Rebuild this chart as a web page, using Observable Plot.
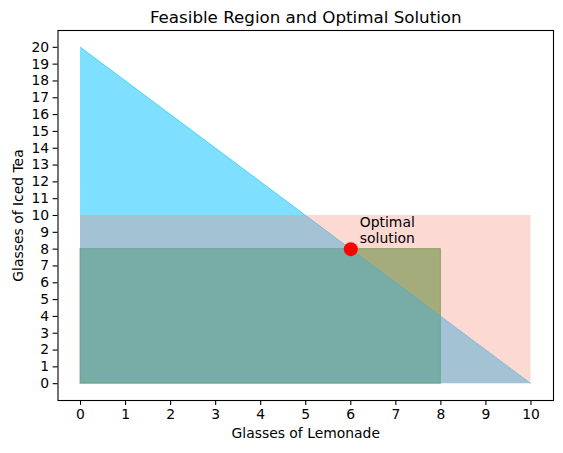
<!DOCTYPE html>
<html>
<head>
<meta charset="utf-8">
<script src="https://cdn.jsdelivr.net/npm/d3@7"></script>
<script src="https://cdn.jsdelivr.net/npm/@observablehq/plot@0.6"></script>
<style>
html, body { margin: 0; padding: 0; background: #fff; }
</style>
</head>
<body>
<div id="chart"></div>
<script>
// Data
const budgetLemonade = [0, 10];      // x of budget constraint line
const budgetTea = [20, 0];           // y of budget constraint line
const pinkRegion = [{x1: 0, x2: 10, y1: 0, y2: 10}];
const greenRegion = [{x1: 0, x2: 8, y1: 0, y2: 8}];
const optimum = [{x: 6, y: 8}];
const annotation = [{x: 6.2, y: 8.35, text: "Optimal\nsolution"}];
const xTicks = d3.range(0, 11);
const yTicks = d3.range(0, 21);

const budget = budgetLemonade.map((x, i) => ({x, y: budgetTea[i]}));
const font = "DejaVu Sans, sans-serif";

const chart = Plot.plot({
  width: 563,
  height: 453,
  marginLeft: 57.5,
  marginRight: 10,
  marginTop: 30,
  marginBottom: 53,
  style: {fontFamily: font, background: "#fff"},
  x: {domain: [-0.5, 10.5], axis: null},
  y: {domain: [-1, 21], axis: null},
  marks: [
    Plot.rect(greenRegion, {x1: "x1", x2: "x2", y1: "y1", y2: "y2", fill: "green", fillOpacity: 0.5, stroke: "green", strokeOpacity: 0.5, strokeWidth: 1}),
    Plot.areaY(budget, {x: "x", y: "y", fill: "deepskyblue", fillOpacity: 0.5}),
    Plot.line(budget, {x: "x", y: "y", stroke: "deepskyblue", strokeOpacity: 0.5, strokeWidth: 1}),
    Plot.rect(pinkRegion, {x1: "x1", x2: "x2", y1: "y1", y2: "y2", fill: "salmon", fillOpacity: 0.3}),
    Plot.dot(optimum, {x: "x", y: "y", r: 7, fill: "red"}),
    Plot.text(annotation, {x: "x", y: "y", text: "text", textAnchor: "start", lineAnchor: "bottom", fontSize: 13.9, fill: "black", lineHeight: 1.2}),
    Plot.frame({stroke: "black", strokeWidth: 1.1}),
    Plot.axisX(xTicks, {anchor: "bottom", tickSize: 4.9, tickPadding: 4, fontSize: 13.9, label: null, stroke: "black", fill: "black", strokeWidth: 1.1}),
    Plot.axisY(yTicks, {anchor: "left", tickSize: 4.9, tickPadding: 4, fontSize: 13.9, label: null, stroke: "black", fill: "black", strokeWidth: 1.1}),
    Plot.text(["Feasible Region and Optimal Solution"], {frameAnchor: "top", dy: -8, lineAnchor: "bottom", fontSize: 16.7, fill: "black"}),
    Plot.text(["Glasses of Lemonade"], {frameAnchor: "bottom", dy: 28, lineAnchor: "top", fontSize: 13.9, fill: "black"}),
    Plot.text(["Glasses of Iced Tea"], {frameAnchor: "left", dx: -35, rotate: -90, textAnchor: "middle", lineAnchor: "bottom", fontSize: 13.9, fill: "black"})
  ]
});
document.getElementById("chart").appendChild(chart);
</script>
</body>
</html>
